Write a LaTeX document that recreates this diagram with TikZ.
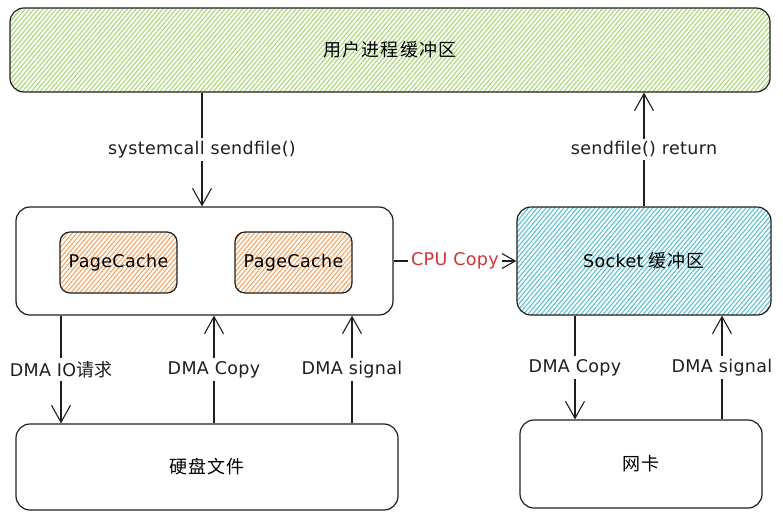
\documentclass[tikz,border=0pt]{standalone}
\usepackage{fontspec}
\setmainfont{Noto Sans CJK SC}[LetterSpace=6]
\newfontfamily\hand{DejaVu Sans}[LetterSpace=2]
\newfontfamily\cjk{Noto Sans CJK SC}
\usetikzlibrary{arrows.meta,patterns.meta}
\definecolor{gfill}{HTML}{A6D870}
\definecolor{ofill}{HTML}{F7A460}
\definecolor{bfill}{HTML}{58C2D4}
\definecolor{cpured}{HTML}{D03438}
\definecolor{ink}{HTML}{1E1E1E}
\begin{document}
\begin{tikzpicture}[x=1pt,y=-1pt,
  box/.style={draw=ink,line width=1.2pt,rounded corners=14pt,inner sep=0pt,align=center,font=\fontsize{18}{20}\selectfont},
  smallbox/.style={box,rounded corners=10pt,font=\hand\fontsize{17.5}{19}\selectfont},
  hatch/.style={pattern={Lines[angle=50,distance=3.4pt,line width=1.1pt]},pattern color=#1},
  arr/.style={draw=ink,line width=1.1pt,-{Straight Barb[length=17pt,width=19pt,line width=1.1pt]}},
  lbl/.style={fill=white,inner sep=3pt,font=\hand\fontsize{17.5}{19}\selectfont,text=ink},
  redlbl/.style={lbl,text=cpured}]
\useasboundingbox (0,0) rectangle (783,515);
% boxes
\node[box,hatch=gfill,minimum width=760pt,minimum height=84pt] (top) at (390,50) {用户进程缓冲区};
\node[box,minimum width=377pt,minimum height=108pt] (mid) at (204.5,261) {};
\node[smallbox,hatch=ofill,minimum width=117pt,minimum height=61pt] (pc1) at (118.5,262.5) {PageCache};
\node[smallbox,hatch=ofill,minimum width=117pt,minimum height=61pt] (pc2) at (293.5,262.5) {PageCache};
\node[box,hatch=bfill,minimum width=254pt,minimum height=108pt] (sock) at (644,261) {{\hand\fontsize{17.5}{19}\selectfont Socket} 缓冲区};
\node[box,minimum width=382pt,minimum height=86pt] (disk) at (207,467) {硬盘文件};
\node[box,minimum width=242pt,minimum height=88pt] (nic) at (641,464) {网卡};
% connectors
\draw[arr] (top.south -| 202,0) -- node[lbl]{systemcall sendfile()} (mid.north -| 202,0);
\draw[arr] (sock.north) -- node[lbl]{sendfile() return} (top.south -| sock.north);
\draw[arr] (mid.east) -- node[redlbl]{CPU Copy} (sock.west);
\draw[arr] (mid.south -| 61,0) -- node[lbl]{DMA IO{\cjk\fontsize{18}{19}\selectfont 请求}} (disk.north -| 61,0);
\draw[arr] (disk.north -| 214,0) -- node[lbl]{DMA Copy} (mid.south -| 214,0);
\draw[arr] (disk.north -| 352,0) -- node[lbl]{DMA signal} (mid.south -| 352,0);
\draw[arr] (sock.south -| 575,0) -- node[lbl]{DMA Copy} (nic.north -| 575,0);
\draw[arr] (nic.north -| 722,0) -- node[lbl]{DMA signal} (sock.south -| 722,0);
\end{tikzpicture}
\end{document}
